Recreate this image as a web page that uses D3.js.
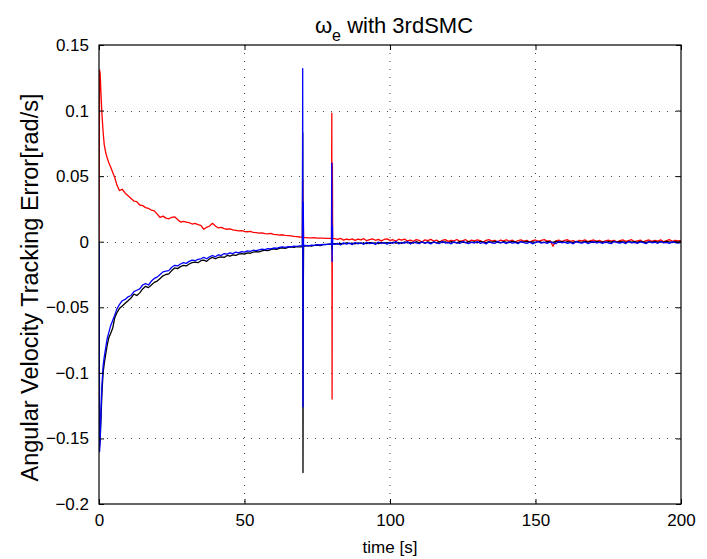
<!DOCTYPE html>
<html>
<head>
<meta charset="utf-8">
<script src="https://cdn.jsdelivr.net/npm/d3@7"></script>
<style>
  body { margin: 0; background: #fff; }
  text { font-family: "Liberation Sans", Arial, Helvetica, sans-serif; }
</style>
</head>
<body>
<div id="main"></div>
<script>
// sample times [s]
var timeS = [
  0, 0.2, 0.4, 0.7, 1, 1.4, 1.8, 2.3, 2.8, 3.4, 4, 4.7, 5.4, 6.2, 7, 8, 9, 10,
  11, 12, 13, 14, 15, 16, 17, 18, 19, 20,
  21, 22, 23, 24, 25, 26, 27, 28, 29, 30,
  31, 32, 33, 34, 35, 36, 37, 38, 39, 40,
  41, 42, 43, 44, 45, 46, 47, 48, 49, 50,
  51, 52, 53, 54, 55, 56, 57, 58, 59, 60,
  61, 62, 63, 64, 65, 66, 67, 68, 69,
  69.9, 70, 70.1, 70.2, 70.3,
  71, 72, 73, 74, 75, 76, 77, 78, 79,
  79.9, 80, 80.1, 80.2, 80.3,
  81, 82, 83, 84, 85, 86, 87, 88, 89, 90,
  91, 92, 93, 94, 95, 96, 97, 98, 99, 100,
  101, 102, 103, 104, 105, 106, 107, 108, 109, 110,
  111, 112, 113, 114, 115, 116, 117, 118, 119, 120,
  121, 122, 123, 124, 125, 126, 127, 128, 129, 130,
  131, 132, 133, 134, 135, 136, 137, 138, 139, 140,
  141, 142, 143, 144, 145, 146, 147, 148, 149, 150,
  151, 152, 153, 154, 155, 156, 157, 158, 159, 160,
  161, 162, 163, 164, 165, 166, 167, 168, 169, 170,
  171, 172, 173, 174, 175, 176, 177, 178, 179, 180,
  181, 182, 183, 184, 185, 186, 187, 188, 189, 190,
  191, 192, 193, 194, 195, 196, 197, 198, 199, 200
];

// tracking errors, in 1e-3 rad/s
var redErr = [
  0, 131, 128, 112, 98, 84, 74, 68, 64, 60, 57, 53, 49, 43, 39, 40, 37, 35,
  33, 31, 30.5, 28, 27.5, 26, 25.5, 24, 23.5, 21,
  18.5, 19.5, 18, 17.5, 18.5, 19, 17, 15, 15.5, 15,
  14.5, 13.5, 14, 13, 12.5, 9.5, 11, 12, 14, 12,
  10.5, 11, 10, 9.5, 9.8, 9, 8.6, 8.2, 8.5, 7.8,
  7.6, 7.9, 7.2, 6.9, 6.6, 6.8, 6.2, 6, 6.3, 5.6,
  5.4, 5.1, 5.3, 4.8, 4.6, 4.4, 4.1, 3.9, 3.6,
  3.5, 47, -8, 20, 3.2,
  3.1, 3.0, 2.9, 3.1, 2.8, 2.7, 2.8, 2.6, 2.5,
  2.5, 98, -120, 60, 2.3,
  2.4, 1.8, 2.6, 1.2, 2.0, 1.5, 2.2, 1.0, 1.9, 1.4,
  2.3, 0.8, 1.6, 2.1, 1.1, 1.8, 0.6, 1.7, 2.2, 1.0,
  1.5, 0.4, 1.9, 1.2, 2.0, 0.6, 1.3, 0.2, 1.6, 1.1,
  -0.3, 1.4, 0.9, 1.8, 0.5, 1.2, -0.2, 1.0, 1.6, 0.3,
  1.1, 0.7, 1.7, 0.2, 0.9, 1.5, -0.1, 1.2, 0.6, 1.4,
  0.8, -0.4, 1.0, 1.6, 0.4, 1.1, 0.0, 1.3, 0.7, 1.5,
  0.3, 1.2, -0.2, 0.9, 1.4, 0.5, 1.1, -0.3, 0.8, 1.3,
  0.2, 1.0, 1.6, 0.4, 0.9, -3.5, 0.6, 1.2, 0.1, 1.0,
  1.5, 0.3, 0.8, -0.4, 1.1, 0.6, 1.4, 0.0, 0.9, 1.3,
  0.2, 1.0, -0.3, 0.7, 1.2, 0.4, 1.1, -0.2, 0.8, 1.4,
  0.3, 0.9, 1.5, 0.1, 0.7, 1.2, -0.3, 0.8, 1.3, 0.2,
  1.0, 0.5, 1.4, -0.1, 0.9, 1.6, 0.3, 1.1, 0.6, 1.0
];

var blackErr = [
  0, -156, -150, -134, -116, -100, -93, -86, -79, -73, -70, -66, -58, -54, -51, -49, -47, -45,
  -43, -40, -41, -39, -36, -34, -35, -33, -31, -30,
  -28, -26, -25, -24.5, -22, -20, -20.5, -19, -18, -18.5,
  -17, -16, -15.5, -16, -14.5, -14, -15, -13, -12, -13,
  -12, -11.5, -12, -10.5, -11, -10, -10.5, -9.5, -9, -9.5,
  -8.5, -8.8, -8, -7.5, -7.8, -7, -6.5, -6.8, -6, -5.5,
  -5.8, -5, -4.6, -5, -4.4, -4, -4.3, -3.8, -4,
  -4, 83, -176, -40, -3.5,
  -3.2, -3.0, -3.4, -2.8, -2.5, -2.9, -2.2, -2.0, -1.8,
  -1.8, 4, -6, -1.5, -1.6,
  -1.5, -1.9, -1.2, -1.6, -0.9, -1.4, -1.1, -1.7, -0.8, -1.3,
  -1.0, -1.5, -0.6, -1.2, -0.9, -1.4, -0.5, -1.1, -0.7, -1.2,
  -0.4, -1.0, -0.6, -1.3, -0.2, -0.9, -0.5, -1.1, 0.0, -0.7,
  -0.4, -1.0, -0.1, -0.8, -0.3, -0.9, 0.1, -0.6, -0.2, -0.8,
  0.0, -0.5, -0.9, 0.2, -0.4, -0.7, 0.1, -0.6, -0.2, -0.8,
  0.3, -0.3, -0.7, 0.0, -0.5, 0.2, -0.4, -0.8, 0.1, -0.3,
  -0.6, 0.2, -0.2, -0.7, 0.0, -0.4, 0.3, -0.5, -0.1, -0.6,
  0.2, -0.3, -0.7, 0.1, -0.2, -0.5, 0.3, -0.4, 0.0, -0.6,
  0.1, -0.3, -0.6, 0.2, -0.2, -0.5, 0.3, -0.3, 0.0, -0.6,
  0.2, -0.4, -0.1, -0.7, 0.1, -0.3, 0.3, -0.5, 0.0, -0.2,
  -0.6, 0.2, -0.3, 0.1, -0.5, 0.3, -0.2, -0.6, 0.1, -0.3,
  0.2, -0.4, 0.0, -0.5, 0.3, -0.2, -0.6, 0.1, -0.3, 0.0
];

var blueErr = [
  0, -160, -152, -128, -110, -95, -88, -81, -74, -69, -64, -60, -56, -51, -48, -45, -44, -42,
  -41, -38, -37, -36, -33, -32, -33, -30, -28, -27,
  -25, -23, -22.5, -22, -19.5, -18, -18.5, -17, -16, -16.5,
  -15, -14, -14.5, -13.5, -13, -12, -13, -11.5, -10.5, -11.5,
  -10, -10.5, -9, -9.5, -8.5, -9, -8, -8.5, -7.5, -8,
  -7, -7.4, -6.5, -6.8, -6.2, -5.6, -6, -5.2, -5.5, -4.8,
  -5, -4.4, -4, -4.3, -3.7, -3.9, -3.4, -3.6, -3.2,
  -3.2, 132, -126, 30, -3,
  -2.9, -3.1, -2.6, -2.8, -2.3, -2.5, -2.0, -2.2, -1.9,
  -1.9, 60, -15, 12, -1.7,
  -2.1, -1.2, -2.4, -0.9, -1.8, -1.0, -2.2, -0.6, -1.6, -0.8,
  -2.0, -0.4, -1.5, -0.9, -2.1, -0.3, -1.3, -0.7, -1.9, -0.5,
  -1.2, 0.2, -1.6, -0.6, -1.1, 0.1, -1.8, -0.4, -0.9, -1.5,
  0.0, -1.1, -0.5, -1.7, -0.2, -0.8, -1.4, 0.3, -1.0, -0.6,
  -1.6, -0.1, -0.9, -1.3, 0.2, -0.7, -1.5, -0.3, -1.0, 0.1,
  -1.2, -0.5, -1.7, -0.2, -0.8, -1.3, 0.2, -0.9, -0.4, -1.4,
  -0.1, -1.0, -0.6, -1.5, 0.1, -0.7, -1.2, -0.3, -1.6, -0.5,
  0.0, -1.1, -0.4, -1.3, -0.2, -0.9, -1.5, 0.2, -0.8, -0.3,
  -1.2, -0.5, -1.6, 0.1, -0.7, -1.1, -0.2, -1.4, -0.6, 0.0,
  -1.0, -0.4, -1.3, -0.1, -0.8, -1.5, 0.2, -0.6, -1.1, -0.3,
  -1.4, 0.0, -0.9, -0.5, -1.2, -0.2, -0.7, -1.5, 0.1, -0.8,
  -0.4, -1.2, 0.0, -0.9, -0.5, -1.3, -0.1, -0.7, -1.0, -0.4
];

var xTicks = [0, 50, 100, 150, 200];
var yTicks = [-0.2, -0.15, -0.1, -0.05, 0, 0.05, 0.1, 0.15];

var svg = d3.select("#main")
    .append("svg")
    .attr("width", 707)
    .attr("height", 559);

var margin = {top: 45, right: 26, bottom: 55, left: 99},
    width = 707 - margin.left - margin.right,
    height = 559 - margin.top - margin.bottom,
    g = svg.append("g").attr("transform", "translate(" + margin.left + "," + margin.top + ")");

var x = d3.scaleLinear().domain([0, 200]).range([0, width]);
var y = d3.scaleLinear().domain([-0.2, 0.15]).range([height, 0]);
var fmt = d3.format("~g");

// dotted grid
g.selectAll(".gx")
    .data(xTicks.slice(1, -1))
    .enter().append("line")
    .attr("x1", function(d) { return x(d); })
    .attr("x2", function(d) { return x(d); })
    .attr("y1", 0).attr("y2", height)
    .attr("stroke", "#444")
    .attr("stroke-width", 1)
    .attr("stroke-dasharray", "1,7");

g.selectAll(".gy")
    .data(yTicks.slice(1, -1))
    .enter().append("line")
    .attr("y1", function(d) { return Math.round(y(d)) + 0.5; })
    .attr("y2", function(d) { return Math.round(y(d)) + 0.5; })
    .attr("x1", 0).attr("x2", width)
    .attr("stroke", "#444")
    .attr("stroke-width", 1)
    .attr("stroke-dasharray", "1,7");

g.append("clipPath").attr("id", "clip")
    .append("rect").attr("width", width).attr("height", height);

function series(vals) {
    return timeS.map(function(t, i) { return {t: t, v: vals[i] / 1000}; });
}

var line = d3.line()
    .x(function(d) { return x(d.t); })
    .y(function(d) { return y(d.v); });

[["#ff0000", redErr], ["#000000", blackErr], ["#0000ff", blueErr]].forEach(function(s) {
    g.append("path")
        .datum(series(s[1]))
        .attr("clip-path", "url(#clip)")
        .attr("fill", "none")
        .attr("stroke", s[0])
        .attr("stroke-width", 1.3)
        .attr("stroke-linejoin", "round")
        .attr("d", line);
});

// axes, MATLAB style: ticks inward on every side
g.append("g")
    .attr("transform", "translate(0," + height + ")")
    .call(d3.axisBottom(x).tickValues(xTicks).tickSize(-5).tickPadding(10).tickFormat(fmt))
    .call(function(a) { a.select(".domain").remove(); })
    .selectAll("text").attr("font-size", 17).attr("fill", "#000");

g.append("g")
    .call(d3.axisTop(x).tickValues(xTicks).tickSize(-5).tickFormat(""))
    .select(".domain").remove();

g.append("g")
    .call(d3.axisLeft(y).tickValues(yTicks).tickSize(-5).tickPadding(10).tickFormat(fmt))
    .call(function(a) { a.select(".domain").remove(); })
    .selectAll("text").attr("font-size", 17).attr("fill", "#000");

g.append("g")
    .attr("transform", "translate(" + width + ",0)")
    .call(d3.axisRight(y).tickValues(yTicks).tickSize(-5).tickFormat(""))
    .select(".domain").remove();

g.append("rect")
    .attr("width", width)
    .attr("height", height)
    .attr("fill", "none")
    .attr("stroke", "#000")
    .attr("stroke-width", 1.2);

// title with subscript
var title = svg.append("text")
    .attr("x", margin.left + width / 2 + 4)
    .attr("y", 33)
    .attr("text-anchor", "middle")
    .attr("font-size", 22)
    .attr("fill", "#000");
title.append("tspan").text("ω");
title.append("tspan").attr("font-size", 16).attr("dy", 8).text("e");
title.append("tspan").attr("dy", -8).text(" with 3rdSMC");

svg.append("text")
    .attr("x", margin.left + width / 2)
    .attr("y", 553)
    .attr("text-anchor", "middle")
    .attr("font-size", 17)
    .attr("fill", "#000")
    .text("time [s]");

svg.append("text")
    .attr("transform", "translate(38," + (margin.top + height / 2 + 13) + ") rotate(-90)")
    .attr("text-anchor", "middle")
    .attr("font-size", 23.5)
    .attr("fill", "#000")
    .text("Angular Velocity Tracking Error[rad/s]");
</script>
</body>
</html>
